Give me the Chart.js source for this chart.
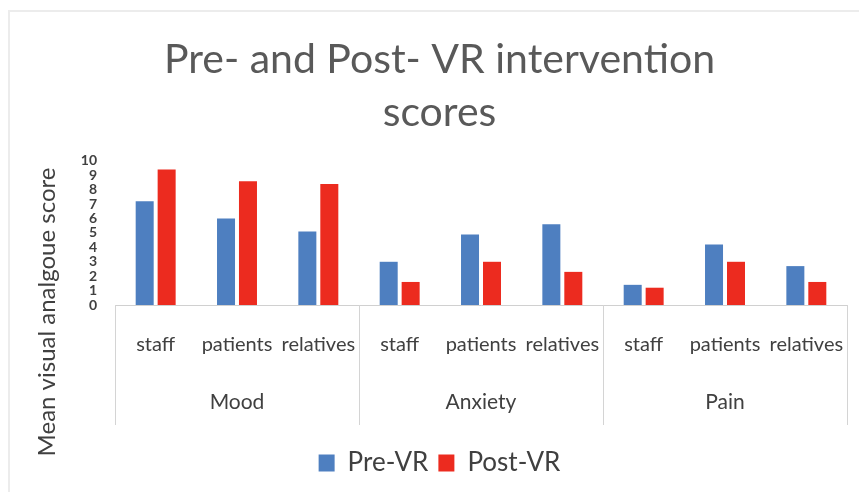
<!DOCTYPE html>
<html>
<head>
<meta charset="utf-8">
<script src="https://cdn.jsdelivr.net/npm/chart.js@4"></script>
<style>
  html, body { margin: 0; padding: 0; background: #ffffff; overflow: hidden; }
  #wrap { width: 859px; height: 492px; }
  canvas { display: block; }
</style>
</head>
<body>
<div id="wrap"><canvas id="c" width="859" height="492"></canvas></div>
<script>
const groups = ['Mood', 'Anxiety', 'Pain'];
const categories = ['staff', 'patients', 'relatives', 'staff', 'patients', 'relatives', 'staff', 'patients', 'relatives'];
const preVR = [7.2, 6.0, 5.1, 3.0, 4.9, 5.6, 1.4, 4.2, 2.7];
const postVR = [9.4, 8.6, 8.4, 1.6, 3.0, 2.3, 1.2, 3.0, 1.6];
const yTicks = [0, 1, 2, 3, 4, 5, 6, 7, 8, 9, 10];
const titleLines = ['Pre- and Post- VR intervention', 'scores'];
const yTitle = 'Mean visual analgoue score';
const seriesNames = ['Pre-VR', 'Post-VR'];

const frame = {
  id: 'frame',
  beforeDraw(chart) {
    const ctx = chart.ctx;
    ctx.save();
    ctx.strokeStyle = '#ececec';
    ctx.lineWidth = 2;
    ctx.beginPath();
    ctx.moveTo(9, 492);
    ctx.lineTo(9, 11);
    ctx.lineTo(859, 11);
    ctx.stroke();
    ctx.restore();
  }
};

const separators = {
  id: 'separators',
  afterDraw(chart) {
    const x = chart.scales.x;
    const ctx = chart.ctx;
    const n = categories.length;
    const per = n / groups.length;
    const top = chart.chartArea.bottom;
    const bottom = 425;
    ctx.save();
    ctx.strokeStyle = '#d4d4d4';
    ctx.lineWidth = 1;
    for (let g = 0; g <= groups.length; g++) {
      const idx = g * per;
      let px;
      if (idx === 0) px = x.left;
      else if (idx === n) px = x.right;
      else px = (x.getPixelForValue(idx - 1) + x.getPixelForValue(idx)) / 2;
      px = Math.round(px) + 0.5;
      ctx.beginPath();
      ctx.moveTo(px, top);
      ctx.lineTo(px, bottom);
      ctx.stroke();
    }
    ctx.fillStyle = '#404040';
    ctx.font = '24px Lato';
    ctx.textAlign = 'center';
    ctx.textBaseline = 'middle';
    ctx.translate(47, 312);
    ctx.rotate(-Math.PI / 2);
    ctx.fillText(yTitle, 0, 0);
    ctx.restore();
  }
};

function fixX(height) {
  return function (s) {
    s.height = height;
    s.paddingLeft = 0;
    s.paddingRight = 0;
  };
}

new Chart(document.getElementById('c'), {
  type: 'bar',
  data: {
    labels: categories,
    datasets: [
      { label: seriesNames[0], data: preVR, backgroundColor: '#4e7fc0', xAxisID: 'x', yAxisID: 'y',
        categoryPercentage: 0.54, barPercentage: 0.82 },
      { label: seriesNames[1], data: postVR, backgroundColor: '#ec2b1f', xAxisID: 'x', yAxisID: 'y',
        categoryPercentage: 0.54, barPercentage: 0.82 }
    ]
  },
  options: {
    responsive: false,
    animation: false,
    layout: { autoPadding: false, padding: { left: 32, right: 12, top: 0, bottom: 6 } },
    plugins: {
      title: {
        display: true,
        text: titleLines,
        color: '#595959',
        font: { family: 'Lato', size: 41, weight: '400', lineHeight: 1.28 },
        padding: { top: 34, bottom: 22 }
      },
      legend: {
        display: true,
        position: 'bottom',
        labels: {
          color: '#404040',
          font: { family: 'Lato', size: 26 },
          boxWidth: 16,
          boxHeight: 17,
          padding: 10
        }
      },
      tooltip: { enabled: false }
    },
    scales: {
      x: {
        type: 'category',
        position: 'bottom',
        weight: 0,
        offset: true,
        grid: { display: false, drawTicks: false },
        border: { display: true, color: '#d0d0d0' },
        ticks: {
          color: '#404040',
          font: { family: 'Lato', size: 20 },
          padding: 28,
          autoSkip: false,
          maxRotation: 0
        },
        afterFit: fixX(70)
      },
      x2: {
        type: 'category',
        position: 'bottom',
        weight: 1,
        labels: groups,
        offset: true,
        grid: { display: false, drawTicks: false },
        border: { display: false },
        ticks: {
          color: '#404040',
          font: { family: 'Lato', size: 21 },
          padding: 15,
          autoSkip: false,
          maxRotation: 0
        },
        afterFit: fixX(65)
      },
      y: {
        min: 0,
        max: 10,
        grid: { display: false, drawTicks: false },
        border: { display: false },
        afterBuildTicks(s) { s.ticks = yTicks.map(v => ({ value: v })); },
        ticks: {
          color: '#404040',
          font: { family: 'Lato', size: 14, weight: '700' },
          padding: 18,
          autoSkip: false,
          stepSize: 1
        },
        afterFit(s) { s.width = 83; }
      }
    }
  },
  plugins: [frame, separators]
});
</script>
</body>
</html>
